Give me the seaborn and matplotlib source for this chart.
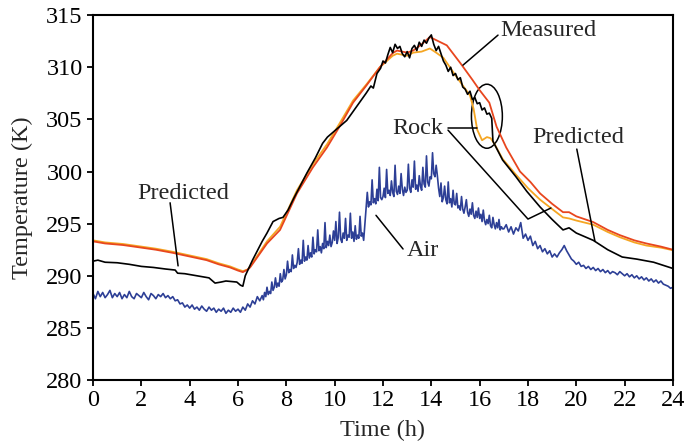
import numpy as np
import pandas as pd
import matplotlib
matplotlib.use("Agg")
import matplotlib.pyplot as plt
from matplotlib.patches import Ellipse
import seaborn as sns

# ---------------- data ----------------
# air: 0.1 h sampling at night, 0.05 h sampling from 7 h to 17 h
air_t = ([round(0.1 * i, 2) for i in range(70)]
         + [round(7.0 + 0.05 * i, 2) for i in range(200)]
         + [round(17.0 + 0.1 * i, 2) for i in range(71)])
air_T = [
    # 0.0 - 6.9 h
    288.3, 287.8, 288.5, 288.0, 288.4, 287.9, 288.2, 288.6, 287.9, 288.3,
    288.0, 288.4, 287.8, 288.2, 287.9, 288.5, 288.0, 287.8, 288.3, 288.1,
    287.9, 288.4, 288.0, 287.7, 288.3, 288.1, 287.8, 288.2, 288.0, 288.3,
    287.9, 288.1, 287.8, 288.0, 287.6, 287.7, 287.3, 287.4, 287.0, 287.2,
    286.9, 287.2, 286.8, 287.0, 286.7, 287.1, 286.8, 286.6, 287.0, 286.7,
    286.9, 286.5, 286.8, 286.6, 286.9, 286.4, 286.7, 286.5, 286.9, 286.6,
    286.8, 286.5, 287.0, 286.7, 287.3, 287.0, 287.6, 287.3, 288.0, 287.6,
    # 7.00 - 7.95 h
    288.1, 287.7, 288.4, 288.0, 288.9, 288.2, 288.5, 288.3, 289.4, 288.6,
    288.9, 289.8, 288.9, 289.3, 289.0, 290.2, 289.4, 289.6, 290.6, 289.7,
    # 8.00 - 8.95 h
    290.1, 291.4, 290.3, 290.6, 290.4, 292.0, 290.7, 291.0, 290.8, 291.3,
    292.6, 291.1, 291.5, 291.2, 293.4, 291.4, 291.8, 291.5, 292.9, 291.7,
    # 9.00 - 9.95 h
    292.2, 291.8, 293.7, 292.1, 292.5, 292.3, 294.4, 292.4, 292.8, 292.2,
    293.1, 292.6, 295.1, 292.7, 293.3, 292.9, 293.9, 292.8, 293.2, 294.3,
    # 10.00 - 10.95 h
    293.4, 295.2, 293.1, 293.7, 296.1, 293.5, 293.2, 294.1, 293.6, 295.5,
    293.4, 293.9, 293.7, 296.0, 293.6, 294.2, 293.3, 294.8, 293.5, 293.9,
    # 11.00 - 11.95 h
    293.6, 295.7, 293.8, 294.1, 293.4, 294.9, 296.4, 298.0, 296.6, 297.1,
    296.8, 299.2, 297.0, 297.4, 296.9, 298.3, 297.2, 300.4, 297.5, 297.3,
    # 12.00 - 12.95 h
    297.6, 298.4, 297.5, 300.2, 297.9, 298.2, 297.7, 299.1, 298.0, 297.6,
    300.6, 298.1, 297.8, 298.6, 297.9, 299.8, 298.3, 297.7, 298.5, 298.0,
    # 13.00 - 13.95 h
    298.2, 300.7, 298.4, 298.0, 299.2, 298.5, 301.0, 298.3, 298.7, 298.1,
    299.6, 298.6, 298.2, 300.4, 298.8, 298.5, 301.5, 299.0, 298.6, 299.5,
    # 14.00 - 14.95 h
    299.3, 301.8, 299.8, 299.5, 300.6, 299.6, 298.4, 297.6, 298.9, 297.1,
    297.5, 298.6, 297.3, 296.9, 299.0, 297.0, 297.4, 296.6, 298.2, 296.9,
    # 15.00 - 15.95 h
    296.8, 297.9, 296.5, 296.7, 296.3, 297.6, 296.4, 296.0, 296.6, 297.3,
    296.1, 295.7, 296.4, 295.9, 297.0, 295.8, 295.5, 296.2, 295.6, 296.5,
    # 16.00 - 16.95 h
    295.5, 295.9, 295.2, 296.3, 295.3, 294.9, 295.4, 295.0, 295.8, 294.8,
    294.6, 295.6, 294.9, 294.5, 295.1, 294.6, 295.4, 294.4, 294.7, 294.5,
    # 17.0 - 24.0 h
    294.5, 294.9, 294.2, 294.7, 294.0, 294.6, 294.3, 295.1, 293.6, 294.0,
    293.4, 293.8, 292.9, 293.3, 292.6, 292.9, 292.3, 292.6, 292.1, 292.4,
    291.8, 292.1, 291.8, 292.2, 292.5, 292.9, 292.4, 292.0, 291.6, 291.4,
    291.1, 291.3, 290.9, 291.0, 290.7, 290.9, 290.6, 290.8, 290.5, 290.7,
    290.4, 290.6, 290.3, 290.5, 290.2, 290.4, 290.3, 290.1, 290.4, 290.2,
    290.0, 290.2, 289.9, 290.1, 289.8, 290.0, 289.7, 289.9, 289.6, 289.8,
    289.5, 289.7, 289.4, 289.6, 289.3, 289.5, 289.2, 289.1, 289.0, 288.8,
    288.9,
]

black_t = [
    0.0, 0.2, 0.5, 1.0, 1.5, 2.0, 2.5, 3.0, 3.4, 3.5, 3.8, 4.3, 4.8, 5.05,
    5.3, 5.5, 5.95, 6.1, 6.2, 6.3, 6.6, 7.0, 7.2, 7.45, 7.7, 7.86, 8.07,
    8.3, 8.85, 9.2, 9.5, 9.7, 9.9, 10.2, 10.5, 10.9, 11.3, 11.5, 11.6,
    11.75, 11.9, 12.0, 12.1,
    12.2, 12.3, 12.4, 12.5, 12.6, 12.7, 12.8, 12.9, 13.0, 13.1, 13.2, 13.3,
    13.4, 13.5, 13.6, 13.7, 13.8, 13.9, 14.0, 14.1, 14.2, 14.3, 14.4, 14.5,
    14.6, 14.7, 14.8, 14.9, 15.0, 15.1, 15.2, 15.3, 15.4, 15.5, 15.6, 15.7,
    15.8, 15.9, 16.0, 16.1, 16.2, 16.3, 16.4, 16.5, 16.55, 16.95, 17.5,
    17.95, 18.5, 19.0, 19.45, 19.7, 20.0, 20.7, 21.3, 21.9, 22.5, 23.2, 24.0,
]
black_T = [
    291.4, 291.5, 291.3, 291.25, 291.1, 290.9, 290.8, 290.65, 290.55, 290.25,
    290.2, 290.0, 289.8, 289.3, 289.4, 289.5, 289.4, 289.1, 289.0, 290.0,
    291.5, 293.3, 294.1, 295.2, 295.5, 295.6, 296.3, 297.4, 299.85, 301.3,
    302.7, 303.3, 303.7, 304.3, 304.9, 306.2, 307.5, 308.2, 308.0, 309.4,
    309.9, 310.6, 310.4,
    311.2, 311.9, 311.4, 312.2, 311.8, 312.0, 311.3, 311.0, 311.5, 310.9,
    311.8, 312.1, 311.6, 312.4, 312.0, 312.6, 312.3, 312.8, 313.1, 312.2,
    311.6, 312.0, 311.3, 310.6, 310.2, 309.6, 310.0, 309.2, 309.4, 308.8,
    309.0, 308.1, 307.9, 307.4, 307.7, 306.9, 307.1, 306.5, 306.6, 305.9,
    306.1, 305.5, 305.6, 305.1, 302.9, 301.1, 299.5, 298.1, 296.6, 295.4,
    294.4, 294.6, 294.1, 293.4, 292.5, 291.8, 291.6, 291.3, 290.7,
]

red_t = [
    0.0, 0.5, 1.24, 2.0, 2.6, 3.3, 4.0, 4.7, 5.2, 5.67, 6.0, 6.2, 6.4, 6.5,
    7.2, 7.74, 8.44, 9.1, 9.68, 10.2, 10.76, 11.33, 11.87, 12.4, 12.58,
    13.0, 13.25, 13.6, 13.94, 14.2, 14.64, 15.2, 15.7, 16.0, 16.4, 16.7,
    17.1, 17.67, 18.1, 18.5, 19.0, 19.45, 19.7, 20.0, 20.7, 21.3, 21.8,
    22.4, 22.9, 23.5, 24.0,
]
red_T = [
    293.3, 293.1, 292.95, 292.7, 292.5, 292.2, 291.85, 291.5, 291.1, 290.8,
    290.5, 290.35, 290.6, 290.8, 293.1, 294.4, 297.9, 300.4, 302.3, 304.3,
    306.6, 308.3, 310.0, 311.35, 311.6, 311.4, 311.6, 312.2, 312.9, 312.6,
    312.1, 310.4, 308.8, 307.8, 306.6, 304.3, 302.3, 300.0, 299.0, 297.9,
    296.9, 296.1, 296.1, 295.7, 295.15, 294.4, 293.9, 293.4, 293.1, 292.8,
    292.5,
]

orange_t = [
    0.0, 0.5, 1.24, 2.0, 2.6, 3.3, 4.0, 4.7, 5.2, 5.67, 6.0, 6.2, 6.4, 6.5,
    7.2, 7.74, 8.44, 9.1, 9.68, 10.2, 10.76, 11.33, 11.87, 12.4, 12.58,
    13.0, 13.25, 13.6, 13.94, 14.2, 14.5, 15.05, 15.6, 15.75, 15.9, 16.1,
    16.3, 16.45, 16.6, 16.95, 17.5, 18.0, 18.5, 19.0, 19.45, 19.7, 20.0,
    20.7, 21.3, 21.8, 22.4, 22.9, 23.5, 24.0,
]
orange_T = [
    293.4, 293.2, 293.05, 292.8, 292.6, 292.3, 291.95, 291.6, 291.2, 290.9,
    290.6, 290.45, 290.6, 290.9, 293.3, 294.7, 298.2, 300.7, 302.6, 304.6,
    306.8, 308.4, 310.0, 311.1, 311.3, 311.1, 311.4, 311.5, 311.8, 311.4,
    310.9, 309.05, 307.3, 306.0, 304.0, 303.0, 303.3, 303.2, 302.7, 301.2,
    299.7, 298.4, 297.3, 296.4, 295.6, 295.5, 295.3, 294.9, 294.2, 293.7,
    293.2, 292.9, 292.7, 292.45,
]

x_ticks = list(range(0, 25, 2))
y_ticks = list(range(280, 316, 5))

# ---------------- plot ----------------
sns.set_style("ticks")
plt.rcParams["font.family"] = ["Liberation Serif", "DejaVu Serif"]
plt.rcParams["mathtext.fontset"] = "stix"

fig = plt.figure(figsize=(6.86, 4.44), dpi=100)
ax = fig.add_axes([0.1356, 0.144, 0.981 - 0.1356, 0.966 - 0.144])

c_red = "#e8461e"
c_orange = "#f5a623"
c_blue = "#2d3f96"

sns.lineplot(x=orange_t, y=orange_T, ax=ax, color=c_orange, lw=1.3,
             estimator=None, sort=False)
sns.lineplot(x=red_t, y=red_T, ax=ax, color=c_red, lw=1.3,
             estimator=None, sort=False)
sns.lineplot(x=black_t, y=black_T, ax=ax, color="black", lw=1.2,
             estimator=None, sort=False)
sns.lineplot(x=air_t, y=air_T, ax=ax, color=c_blue, lw=1.2,
             estimator=None, sort=False)

ax.set_xlim(0, 24)
ax.set_ylim(280, 315)
ax.set_xticks(x_ticks)
ax.set_yticks(y_ticks)
for s in ax.spines.values():
    s.set_visible(True)
    s.set_linewidth(1.5)
    s.set_color("black")
fs = 17.5
ax.tick_params(direction="out", length=4.5, width=1.3, labelsize=fs,
               colors="black", pad=3)
ax.set_xlabel("Time (h)", fontsize=fs, labelpad=6)
ax.set_ylabel("Temperature (K)", fontsize=fs, labelpad=9)

# annotations
ax.text(3.72, 297.9, "Predicted", fontsize=fs, ha="center", va="center")
ax.plot([3.19, 3.52], [297.0, 290.95], color="black", lw=1.1)

ax.text(18.83, 313.55, "Measured", fontsize=fs, ha="center", va="center")
ax.plot([16.76, 15.31], [313.08, 310.2], color="black", lw=1.1)

ax.text(13.45, 304.17, "Rock", fontsize=fs, ha="center", va="center")
ax.plot([14.69, 15.89], [304.17, 304.17], color="black", lw=1.1)
ax.plot([14.69, 18.0, 18.95], [303.97, 295.44, 296.5], color="black", lw=1.1)

ax.text(20.07, 303.3, "Predicted", fontsize=fs, ha="center", va="center")
ax.plot([20.02, 20.77], [302.15, 293.33], color="black", lw=1.1)

ax.text(13.65, 292.47, "Air", fontsize=fs, ha="center", va="center")
ax.plot([12.83, 11.71], [292.57, 295.8], color="black", lw=1.1)

ax.add_patch(Ellipse((16.3, 305.3), 1.28, 6.14, fill=False,
                     edgecolor="black", lw=1.1))

fig.savefig("out.png", dpi=100)
